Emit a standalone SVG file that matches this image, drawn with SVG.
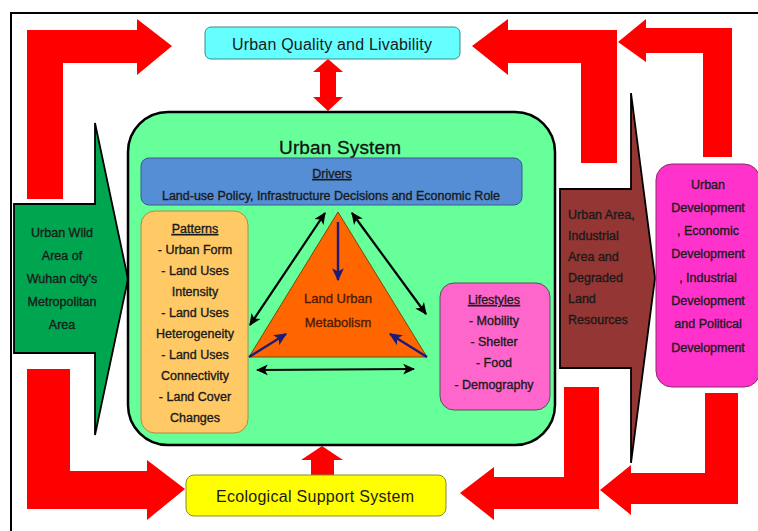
<svg xmlns="http://www.w3.org/2000/svg" width="758" height="531" viewBox="0 0 758 531">
<style>
text{font-family:"Liberation Sans",Arial,sans-serif;fill:#1a1a1a;}
.s{font-size:12.5px;text-anchor:middle;stroke:#1a1a1a;stroke-width:0.35px;}
.l{font-size:12.5px;stroke:#1a1a1a;stroke-width:0.35px;}
.red{fill:#FF0000;}
.bk{stroke:#000;stroke-width:2.2;fill:none;}
.nv{stroke:#1c1c78;stroke-width:2.4;fill:none;}
</style>
<defs>
<marker id="ah" viewBox="0 0 10 10" refX="9" refY="5" markerWidth="12" markerHeight="12" orient="auto-start-reverse" markerUnits="userSpaceOnUse">
<path d="M0,0.5 L10,5 L0,9.5 L2.5,5 Z" fill="#000"/>
</marker>
<marker id="an" viewBox="0 0 10 10" refX="9" refY="5" markerWidth="13" markerHeight="13" orient="auto" markerUnits="userSpaceOnUse">
<path d="M0,0.5 L10,5 L0,9.5 L2.5,5 Z" fill="#1c1c78"/>
</marker>
</defs>
<rect width="758" height="531" fill="#fff"/>
<rect x="11" y="13" width="760" height="530" fill="none" stroke="#000" stroke-width="2"/>

<g id="connectors">
<path class="red" d="M27,199 L27,30 L137,30 L137,19 L172,46 L137,75 L137,63 L63,63 L63,199 Z"/>
<path class="red" d="M617,163 L617,30 L508,30 L508,19 L472,46 L508,75 L508,63 L581,63 L581,163 Z"/>
<path class="red" d="M732,157 L732,28 L646,28 L646,19 L618,42 L646,62 L646,53 L703,53 L703,157 Z"/>
<path class="red" d="M27,369 L70,369 L70,471 L147,471 L147,460 L185,489 L147,520 L147,509 L27,509 Z"/>
<path class="red" d="M599,387 L564,387 L564,477 L494,477 L494,467 L460,493 L494,520 L494,509 L599,509 Z"/>
<path class="red" d="M738,393 L705,393 L705,473 L631,473 L631,465 L600,490 L631,515 L631,504 L738,504 Z"/>
<path class="red" d="M328,59 L343,72 L336,72 L336,97 L343,97 L328,111 L313,97 L320,97 L320,72 L313,72 Z"/>
<path class="red" d="M322,446 L343,460 L334,460 L334,475 L311,475 L311,460 L301,460 Z"/>
</g>

<g id="quality">
<rect x="205" y="27" width="255" height="32" rx="6" fill="#66FFFF" stroke="#3a8a8a" stroke-width="1"/>
<text x="332" y="50" font-size="16" text-anchor="middle" textLength="200" lengthAdjust="spacing">Urban Quality and Livability</text>
</g>

<g id="wild">
<path d="M14,204 L95,204 L95,123 L128,279 L95,435 L95,353 L14,353 Z" fill="#00A550" stroke="#000" stroke-width="1.8"/>
<text class="s" x="62" y="237">Urban Wild</text>
<text class="s" x="62" y="260">Area of</text>
<text class="s" x="62" y="283">Wuhan city’s</text>
<text class="s" x="62" y="306">Metropolitan</text>
<text class="s" x="62" y="329">Area</text>
</g>

<g id="urban-system">
<rect x="128" y="112" width="427" height="333" rx="40" fill="#66FF99" stroke="#000" stroke-width="2.5"/>
<text x="340" y="154" font-size="19" text-anchor="middle" textLength="122" lengthAdjust="spacing" style="fill:#111;stroke:#111;stroke-width:0.3px">Urban System</text>
</g>

<g id="drivers">
<rect x="141" y="158" width="381" height="47" rx="8" fill="#558ED5" stroke="#3a5a90" stroke-width="1"/>
<text class="s" x="332" y="178" text-decoration="underline">Drivers</text>
<text class="s" x="331" y="200">Land-use Policy, Infrastructure Decisions and Economic Role</text>
</g>

<g id="patterns">
<rect x="141" y="211" width="107" height="222" rx="14" fill="#FFC966" stroke="#b08a40" stroke-width="1"/>
<text class="s" x="195" y="233" text-decoration="underline">Patterns</text>
<text class="s" x="195" y="254">- Urban Form</text>
<text class="s" x="195" y="275">- Land Uses</text>
<text class="s" x="195" y="296">Intensity</text>
<text class="s" x="195" y="317">- Land Uses</text>
<text class="s" x="195" y="338">Heterogeneity</text>
<text class="s" x="195" y="359">- Land Uses</text>
<text class="s" x="195" y="380">Connectivity</text>
<text class="s" x="195" y="401">- Land Cover</text>
<text class="s" x="195" y="422">Changes</text>
</g>

<g id="metabolism">
<path d="M338,212 L427,357 L249,357 Z" fill="#FF6600" stroke="#7a4a00" stroke-width="1"/>
<text x="338" y="303" font-size="13" text-anchor="middle" style="fill:#4a1a00;stroke:#4a1a00;stroke-width:0.3px">Land Urban</text>
<text x="338" y="327" font-size="13" text-anchor="middle" style="fill:#4a1a00;stroke:#4a1a00;stroke-width:0.3px">Metabolism</text>
</g>

<g id="lifestyles">
<rect x="440" y="283" width="110" height="127" rx="14" fill="#FF66CC" stroke="#555" stroke-width="1"/>
<text class="s" x="494" y="304" text-decoration="underline">Lifestyles</text>
<text class="s" x="494" y="325">- Mobility</text>
<text class="s" x="494" y="346">- Shelter</text>
<text class="s" x="494" y="367">- Food</text>
<text class="s" x="494" y="389">- Demography</text>
</g>

<g id="inner-connectors">
<line class="bk" x1="250" y1="325" x2="325" y2="213" marker-start="url(#ah)" marker-end="url(#ah)"/>
<line class="bk" x1="352" y1="213" x2="426" y2="314" marker-start="url(#ah)" marker-end="url(#ah)"/>
<line class="bk" x1="257" y1="370" x2="414" y2="369" marker-start="url(#ah)" marker-end="url(#ah)"/>
<line class="nv" x1="338" y1="222" x2="338" y2="280" marker-end="url(#an)"/>
<line class="nv" x1="249" y1="357" x2="286" y2="334" marker-end="url(#an)"/>
<line class="nv" x1="427" y1="357" x2="390" y2="334" marker-end="url(#an)"/>
</g>

<g id="urban-area">
<path d="M560,189 L631,189 L631,93 L655,278 L631,463 L631,368 L560,368 Z" fill="#943634" stroke="#000" stroke-width="1.8"/>
<text class="l" x="568" y="219">Urban Area,</text>
<text class="l" x="568" y="240">Industrial</text>
<text class="l" x="568" y="261">Area and</text>
<text class="l" x="568" y="282">Degraded</text>
<text class="l" x="568" y="303">Land</text>
<text class="l" x="568" y="324">Resources</text>
</g>

<g id="development">
<rect x="656" y="164" width="104" height="223" rx="16" fill="#FF33CC" stroke="#8a2a6a" stroke-width="1"/>
<text class="s" x="708" y="188.5">Urban</text>
<text class="s" x="708" y="211.5">Development</text>
<text class="s" x="708" y="235">, Economic</text>
<text class="s" x="708" y="258">Development</text>
<text class="s" x="708" y="281.5">, Industrial</text>
<text class="s" x="708" y="305">Development</text>
<text class="s" x="708" y="328">and Political</text>
<text class="s" x="708" y="351.5">Development</text>
</g>

<g id="ecological">
<rect x="186" y="475" width="260" height="41" rx="8" fill="#FFFF00" stroke="#8a8a30" stroke-width="1"/>
<text x="315" y="502" font-size="16" text-anchor="middle" textLength="198" lengthAdjust="spacing">Ecological Support System</text>
</g>
</svg>
